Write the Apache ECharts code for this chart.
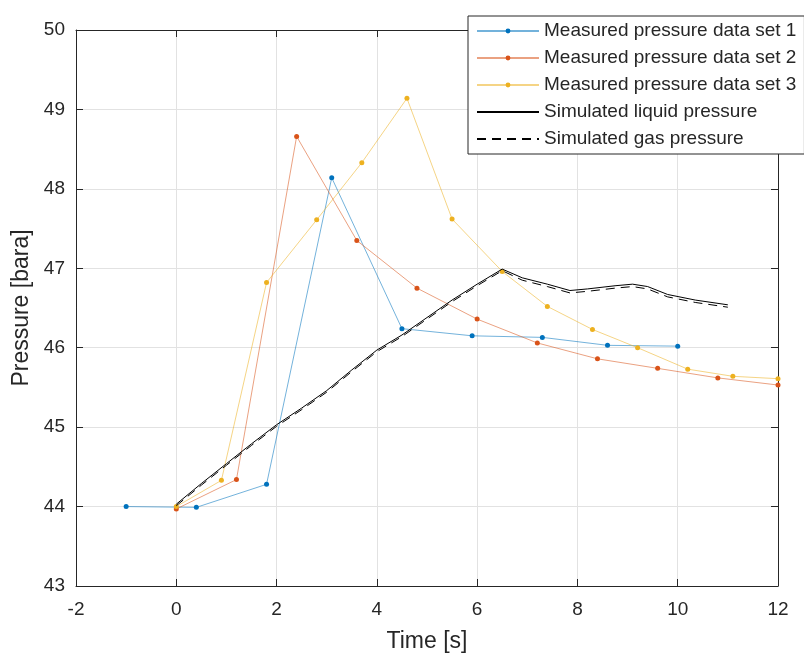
<!DOCTYPE html>
<html>
<head>
<meta charset="utf-8">
<script src="https://cdn.jsdelivr.net/npm/echarts@6/dist/echarts.min.js"></script>
<style>
html,body{margin:0;padding:0;background:#fff;}
#chart{width:804px;height:653px;}
</style>
</head>
<body>
<div id="chart"></div>
<script>
// ---- data ----
const set1X = [-1, 0.4, 1.8, 3.1, 4.5, 5.9, 7.3, 8.6, 10.0];
const set1Y = [44.0, 43.99, 44.28, 48.14, 46.24, 46.15, 46.13, 46.03, 46.02];

const set2X = [0, 1.2, 2.4, 3.6, 4.8, 6.0, 7.2, 8.4, 9.6, 10.8, 12.0];
const set2Y = [43.97, 44.34, 48.66, 47.35, 46.75, 46.36, 46.06, 45.86, 45.74, 45.62, 45.53];

const set3X = [0, 0.9, 1.8, 2.8, 3.7, 4.6, 5.5, 6.5, 7.4, 8.3, 9.2, 10.2, 11.1, 12.0];
const set3Y = [44.0, 44.33, 46.82, 47.61, 48.33, 49.14, 47.62, 46.96, 46.52, 46.23, 46.0, 45.73, 45.64, 45.61];

const liqX = [0, 0.5, 1, 1.5, 2, 2.5, 3, 3.5, 4, 4.5, 5, 5.5, 6, 6.5, 6.9, 7.4, 7.85, 8.2, 8.75, 9.1, 9.4, 9.8, 10.35, 11.0];
const liqY = [44.03, 44.29, 44.54, 44.79, 45.03, 45.24, 45.46, 45.72, 45.97, 46.16, 46.38, 46.6, 46.8, 46.99, 46.88, 46.8, 46.72, 46.74, 46.78, 46.8, 46.77, 46.67, 46.6, 46.54];

const gasX = [0, 0.5, 1, 1.5, 2, 2.5, 3, 3.5, 4, 4.5, 5, 5.5, 6, 6.5, 6.9, 7.4, 7.85, 8.2, 8.75, 9.1, 9.4, 9.8, 10.35, 11.0];
const gasY = [44.01, 44.27, 44.52, 44.77, 45.01, 45.22, 45.44, 45.7, 45.95, 46.14, 46.36, 46.58, 46.78, 46.97, 46.85, 46.77, 46.69, 46.71, 46.75, 46.77, 46.74, 46.64, 46.57, 46.51];

const xTicks = {min: -2, max: 12, interval: 2};
const yTicks = {min: 43, max: 50, interval: 1};

const names = ['Measured pressure data set 1', 'Measured pressure data set 2', 'Measured pressure data set 3', 'Simulated liquid pressure', 'Simulated gas pressure'];

function pairs(xs, ys){ return xs.map((x,i)=>[x, ys[i]]); }

const FONT = "'Liberation Sans', Arial, sans-serif";
const TXT = '#262626';
const AX = '#262626';

const chart = echarts.init(document.getElementById('chart'), null, {renderer:'canvas'});

function measured(name, xs, ys, color){
  return {
    name, type:'line', data: pairs(xs, ys),
    symbol:'circle', symbolSize:5, showSymbol:true,
    itemStyle:{color: color},
    lineStyle:{color: color, width:1, opacity:0.55},
    animation:false, z: 3
  };
}

const axisCommon = {
  axisLine:{show:true, onZero:false, lineStyle:{color:AX, width:1}},
  axisTick:{show:true, inside:true, length:7, lineStyle:{color:AX}},
};

chart.setOption({
  backgroundColor:'#fff',
  animation:false,
  grid:{left:76, right:26, top:30, bottom:67, containLabel:false, outerBoundsMode:'none'},
  xAxis:[
    Object.assign({type:'value', position:'bottom', min:xTicks.min, max:xTicks.max, interval:xTicks.interval,
      name:'Time [s]', nameLocation:'middle', nameGap:44,
      nameTextStyle:{fontFamily:FONT, fontSize:23, color:TXT},
      axisLabel:{fontFamily:FONT, fontSize:19, color:TXT, margin:14},
      splitLine:{show:true, lineStyle:{color:'#e2e2e2', width:1}}}, axisCommon),
    Object.assign({type:'value', position:'top', min:xTicks.min, max:xTicks.max, interval:xTicks.interval,
      axisLabel:{show:false}, splitLine:{show:false}}, axisCommon)
  ],
  yAxis:[
    Object.assign({type:'value', position:'left', min:yTicks.min, max:yTicks.max, interval:yTicks.interval,
      name:'Pressure [bara]', nameLocation:'middle', nameGap:40,
      nameTextStyle:{fontFamily:FONT, fontSize:23, color:TXT},
      axisLabel:{fontFamily:FONT, fontSize:19, color:TXT, margin:11},
      splitLine:{show:true, lineStyle:{color:'#e2e2e2', width:1}}}, axisCommon),
    Object.assign({type:'value', position:'right', min:yTicks.min, max:yTicks.max, interval:yTicks.interval,
      axisLabel:{show:false}, splitLine:{show:false}}, axisCommon)
  ],
  legend:{
    data:[
      {name:names[0]}, {name:names[1]}, {name:names[2]},
      {name:names[3], itemStyle:{opacity:0}},
      {name:names[4], itemStyle:{opacity:0}}
    ],
    orient:'vertical', left:468, top:16,
    padding:[5,8,5,8], itemGap:7, itemWidth:62, itemHeight:6,
    backgroundColor:'#fff', borderColor:'#262626', borderWidth:1,
    textStyle:{fontFamily:FONT, fontSize:19, color:TXT, lineHeight:20},
    selectedMode:false
  },
  series:[
    measured(names[0], set1X, set1Y, '#0072BD'),
    measured(names[1], set2X, set2Y, '#D95319'),
    measured(names[2], set3X, set3Y, '#EDB120'),
    {name:names[3], type:'line', data:pairs(liqX, liqY), showSymbol:false, symbol:'none',
     itemStyle:{color:'#000'}, lineStyle:{color:'#000', width:1}, z:4},
    {name:names[4], type:'line', data:pairs(gasX, gasY), showSymbol:false, symbol:'none',
     itemStyle:{color:'#000'}, lineStyle:{color:'#000', width:1, type:[9,6]}, z:4}
  ]
});
</script>
</body>
</html>
